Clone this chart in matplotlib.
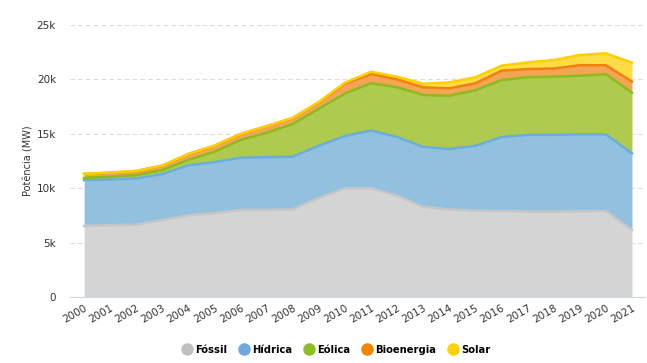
import numpy as np
import matplotlib
matplotlib.use("Agg")
import matplotlib.pyplot as plt
from matplotlib import font_manager
from matplotlib.ticker import FuncFormatter

anos = list(range(2000, 2022))

# valores estimados a partir do gráfico (MW)
fossil = [6530, 6600, 6650, 7080, 7500, 7700, 8000, 8000, 8050, 9100, 9990,
          10000, 9300, 8300, 8050, 7930, 7900, 7850, 7850, 7870, 7900, 6160]
hidrica = [4220, 4200, 4250, 4220, 4600, 4700, 4800, 4850, 4850, 4800, 4810,
           5300, 5400, 5500, 5550, 5970, 6800, 7050, 7050, 7080, 7050, 7040]
eolica = [200, 250, 300, 370, 500, 950, 1630, 2250, 3000, 3400, 3900,
          4350, 4570, 4770, 4900, 5100, 5240, 5300, 5350, 5390, 5520, 5580]
bioenergia = [360, 370, 380, 400, 540, 550, 550, 600, 550, 600, 900,
              850, 730, 700, 680, 640, 860, 750, 750, 960, 830, 1020]
solar = [10, 10, 10, 10, 10, 10, 10, 10, 15, 30, 100,
         200, 250, 330, 550, 560, 460, 620, 780, 940, 1100, 1740]

series = ["Fóssil", "Hídrica", "Eólica", "Bioenergia", "Solar"]
fills = ["#d4d4d4", "#92c1e0", "#aecb4f", "#f2a552", "#ffdb45"]
lines = ["#c6c6c6", "#6aaedc", "#8cbb1e", "#f08010", "#ffd000"]
marcadores = ["#c0c0c0", "#6fa8dc", "#8cbf26", "#f28500", "#ffd300"]

dados = np.array([fossil, hidrica, eolica, bioenergia, solar])
acum = np.cumsum(dados, axis=0)
x = np.arange(len(anos))

# fonte estreita para a legenda, se existir
nomes_fontes = {f.name for f in font_manager.fontManager.ttflist}
if "Liberation Sans Narrow" in nomes_fontes:
    fonte_leg = {"family": "Liberation Sans Narrow", "weight": "bold", "size": 9}
else:
    fonte_leg = {"family": "DejaVu Sans", "stretch": "condensed", "weight": "bold", "size": 8}

fig = plt.figure(figsize=(6.47, 3.63), dpi=100)
ax = fig.add_axes([70 / 647, 1 - 297 / 363, 575 / 647, 272 / 363])

base = np.zeros(len(anos))
for i in range(len(series)):
    ax.fill_between(x, base, acum[i], color=fills[i], linewidth=0, zorder=2)
    base = acum[i]
for i in range(len(series)):
    ax.plot(x, acum[i], color=lines[i], linewidth=1.8, zorder=3)

ax.set_xlim(-0.54, 21.5)
ax.set_ylim(0, 25000)
ax.set_yticks(range(0, 25001, 5000))
ax.yaxis.set_major_formatter(FuncFormatter(lambda v, p: "0" if v == 0 else f"{int(v/1000)}k"))
ax.set_xticks(x)
ax.set_xticklabels([str(a) for a in anos], rotation=30, ha="right",
                   rotation_mode="anchor", fontsize=7.5, color="#333333")
ax.tick_params(axis="y", length=0, labelsize=7.5, labelcolor="#333333", pad=10)
ax.tick_params(axis="x", length=0, pad=4)
ax.grid(axis="y", color="#dddddd", linestyle=(0, (4, 3)), linewidth=0.8, zorder=0)
for s in ["top", "right", "left"]:
    ax.spines[s].set_visible(False)
ax.spines["bottom"].set_color("#ccd6eb")
ax.spines["bottom"].set_zorder(4)
ax.set_ylabel("Potência (MW)", fontsize=7, color="#333333", labelpad=2)

handles = [plt.Line2D([], [], marker="o", linestyle="", markersize=8,
                      markerfacecolor=c, markeredgecolor=c) for c in marcadores]
fig.legend(handles, series, loc="center", bbox_to_anchor=(335 / 647, 1 - 350 / 363),
           ncol=5, frameon=False, handletextpad=0.05, columnspacing=0.8,
           handlelength=1.4, prop=fonte_leg)

fig.savefig("out.png", dpi=100)
